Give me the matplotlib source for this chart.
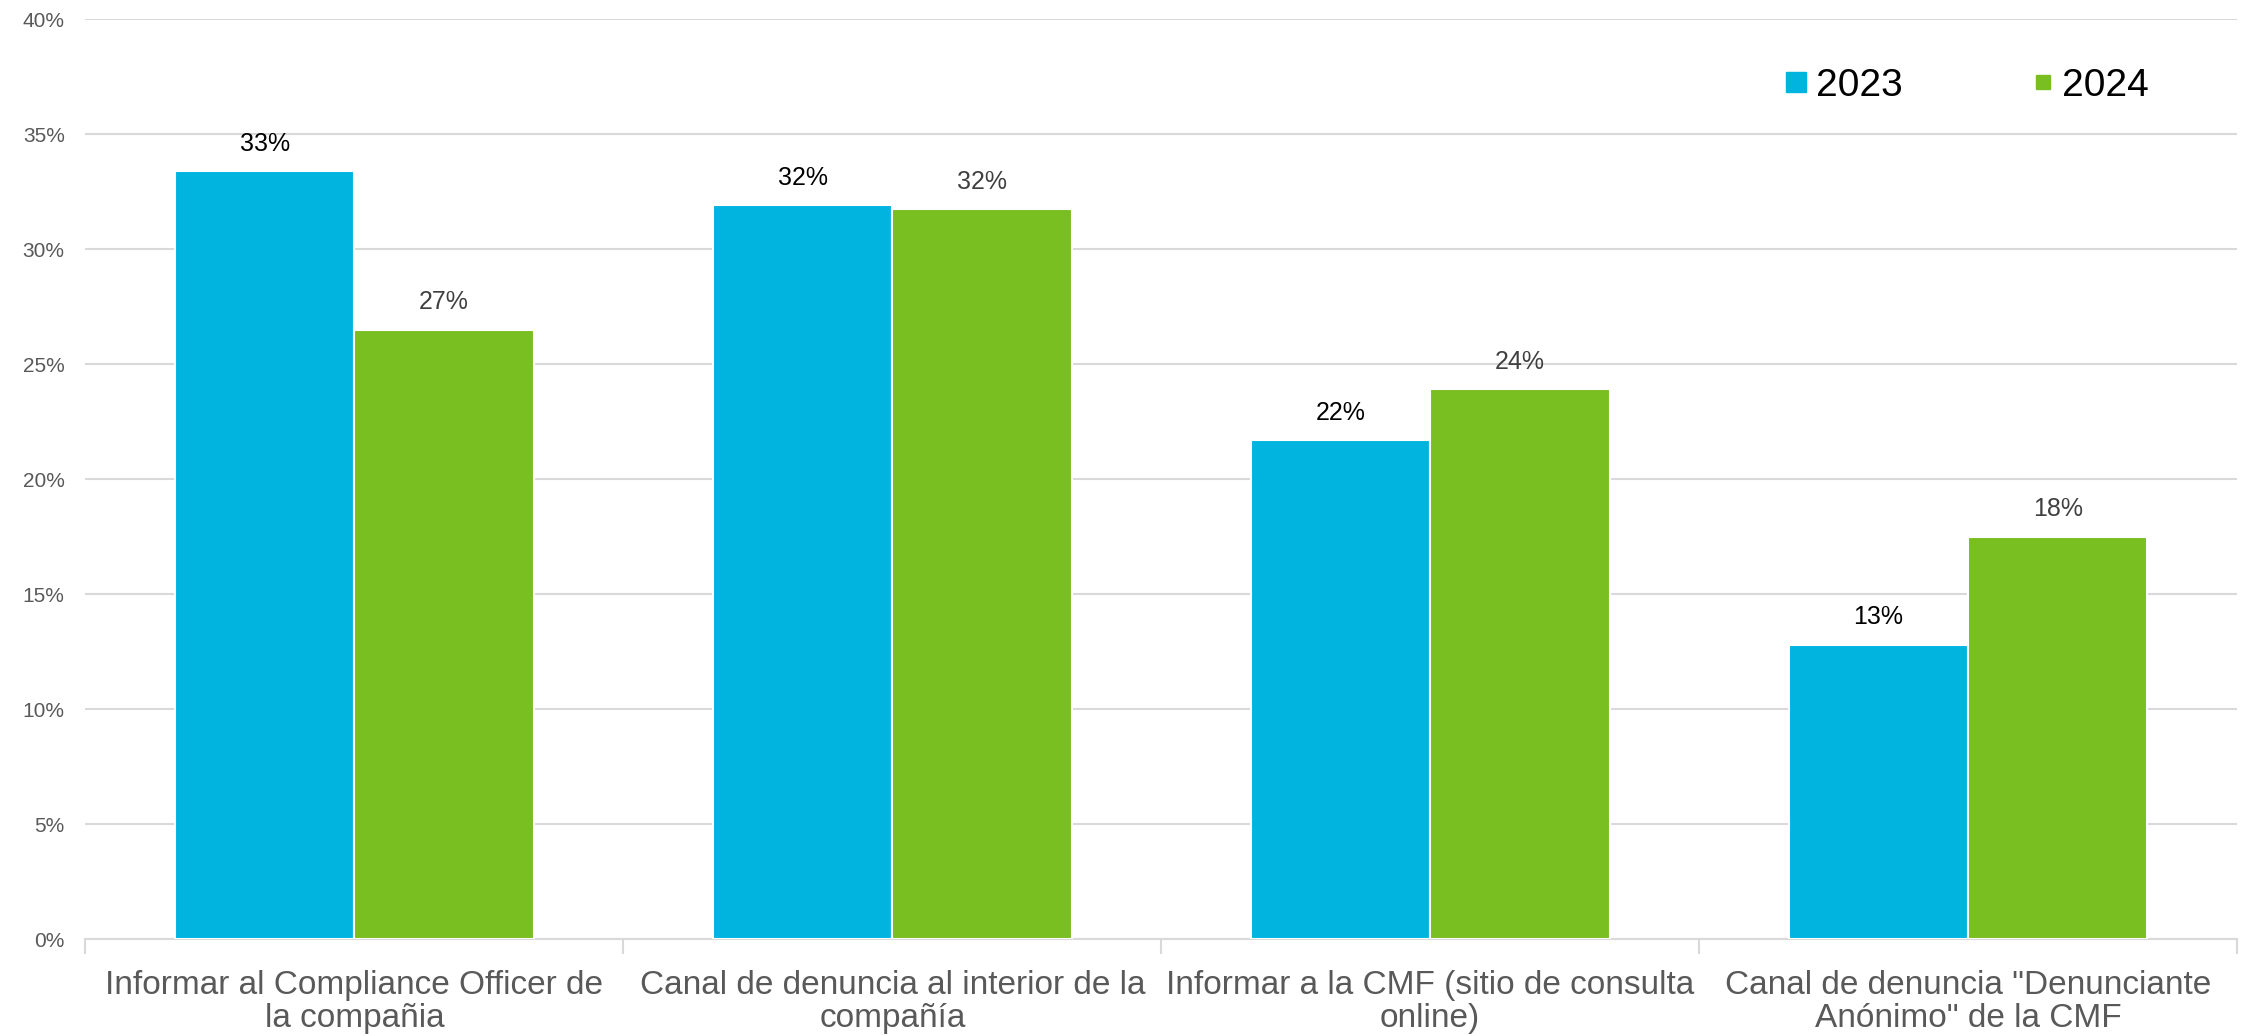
import numpy as np
import matplotlib
matplotlib.use('Agg')
import matplotlib.pyplot as plt
from matplotlib.lines import Line2D

plt.rcParams['font.family'] = ['Liberation Sans', 'DejaVu Sans']

# Datos
categorias = [
    'Informar al Compliance Officer de\nla compañia',
    'Canal de denuncia al interior de la\ncompañía',
    'Informar a la CMF (sitio de consulta\nonline)',
    'Canal de denuncia "Denunciante\nAnónimo" de la CMF',
]
valores_2023 = [33.4, 31.9, 21.7, 12.8]
valores_2024 = [26.5, 31.75, 23.9, 17.5]
etiquetas_2023 = ['33%', '32%', '22%', '13%']
etiquetas_2024 = ['27%', '32%', '24%', '18%']
ticks_y = [0, 5, 10, 15, 20, 25, 30, 35, 40]

azul = '#00B4E0'
verde = '#7ABF22'

fig = plt.figure(figsize=(22.49, 10.36), dpi=100)
ax = fig.add_axes([0.038, 0.0936, 0.9567, 0.888])

x = np.arange(len(categorias))
ancho = 1 / 3

b1 = ax.bar(x - ancho / 2, valores_2023, ancho, color=azul, edgecolor='white', linewidth=1.5, zorder=3)
b2 = ax.bar(x + ancho / 2, valores_2024, ancho, color=verde, edgecolor='white', linewidth=1.5, zorder=3)

# Etiquetas de valor
for rect, txt in zip(b1, etiquetas_2023):
    ax.annotate(txt, xy=(rect.get_x() + rect.get_width() / 2, rect.get_height()),
                xytext=(0, 11), textcoords='offset points', ha='center', va='bottom',
                fontsize=18, color='black')
for rect, txt in zip(b2, etiquetas_2024):
    ax.annotate(txt, xy=(rect.get_x() + rect.get_width() / 2, rect.get_height()),
                xytext=(0, 11), textcoords='offset points', ha='center', va='bottom',
                fontsize=18, color='#404040')

# Ejes
ax.set_xlim(-0.5, len(categorias) - 0.5)
ax.set_ylim(0, 40)
ax.set_yticks(ticks_y)
ax.set_yticklabels([f'{t}%' for t in ticks_y], fontsize=15, color='#595959')
ax.tick_params(axis='y', length=0, pad=15)

ax.set_xticks(x)
ax.set_xticklabels(categorias, fontsize=24, color='#595959', linespacing=1.1)
ax.set_xticks(np.arange(-0.5, len(categorias)), minor=True)
ax.tick_params(axis='x', which='major', length=0, pad=22)
ax.tick_params(axis='x', which='minor', length=11, width=1.5, color='#D9D9D9')

ax.grid(axis='y', color='#D9D9D9', linewidth=1.5, zorder=0)
for lado in ['top', 'right', 'left']:
    ax.spines[lado].set_visible(False)
ax.spines['bottom'].set_color('#D9D9D9')
ax.spines['bottom'].set_linewidth(1.5)

# Leyenda
handles = [
    Line2D([], [], marker='s', linestyle='none', markersize=14, color=azul),
    Line2D([], [], marker='s', linestyle='none', markersize=10, color=verde),
]
fig.legend(handles, ['2023', '2024'], loc='center left', bbox_to_anchor=(0.778, 0.917),
           ncol=2, frameon=False, fontsize=28, handlelength=0.6, handletextpad=0.2,
           columnspacing=3.3)

fig.savefig('out.png', dpi=100)
